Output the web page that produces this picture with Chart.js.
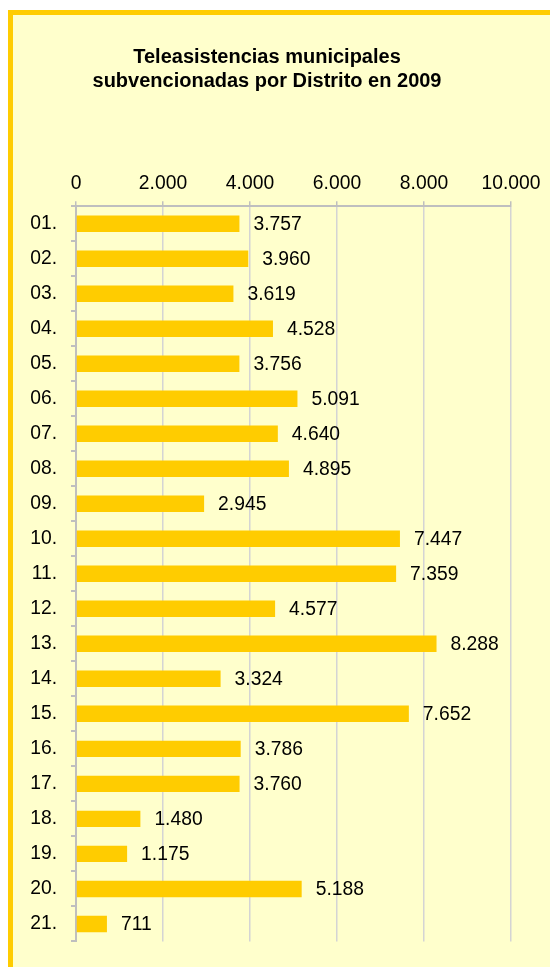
<!DOCTYPE html>
<html>
<head>
<meta charset="utf-8">
<script src="https://cdn.jsdelivr.net/npm/chart.js@4.4.1/dist/chart.umd.min.js"></script>
<style>
  html, body { margin: 0; padding: 0; width: 550px; height: 967px; overflow: hidden; background: #ffffff; }
  #frame { position: absolute; left: 8px; top: 10px; width: 620px; height: 1020px;
           border-left: 5px solid #FFCC00; border-top: 5px solid #FFCC00; background: #FFFFCC; }
  #c { position: absolute; left: 0; top: 0; }
</style>
</head>
<body>
<div id="frame"></div>
<canvas id="c" width="550" height="967"></canvas>
<script>
const titleLines = ['Teleasistencias municipales', 'subvencionadas por Distrito en 2009'];
const districts = ['01.','02.','03.','04.','05.','06.','07.','08.','09.','10.','11.','12.','13.','14.','15.','16.','17.','18.','19.','20.','21.'];
const teleasistencias = [3757, 3960, 3619, 4528, 3756, 5091, 4640, 4895, 2945, 7447, 7359, 4577, 8288, 3324, 7652, 3786, 3760, 1480, 1175, 5188, 711];
const xTicks = [0, 2000, 4000, 6000, 8000, 10000];

const FONT = 'Arial, "Liberation Sans", sans-serif';
function fmt(v) { return String(v).replace(/\B(?=(\d{3})+(?!\d))/g, '.'); }

const valueLabels = {
  id: 'valueLabels',
  afterDatasetsDraw(chart) {
    const ctx = chart.ctx;
    const meta = chart.getDatasetMeta(0);
    ctx.save();
    ctx.font = '19.3px ' + FONT;
    ctx.fillStyle = '#000000';
    ctx.textAlign = 'left';
    ctx.textBaseline = 'middle';
    meta.data.forEach((bar, i) => {
      ctx.fillText(fmt(teleasistencias[i]), bar.x + 14, bar.y + 1);
    });
    ctx.restore();
  }
};

new Chart(document.getElementById('c'), {
  type: 'bar',
  data: {
    labels: districts,
    datasets: [{
      data: teleasistencias,
      backgroundColor: '#FFCC00',
      borderWidth: 0,
      categoryPercentage: 1,
      barPercentage: 0.47
    }]
  },
  options: {
    indexAxis: 'y',
    responsive: false,
    animation: false,
    layout: { padding: { left: 23, right: 39, top: 35, bottom: 22 } },
    plugins: {
      legend: { display: false },
      tooltip: { enabled: false },
      title: {
        display: true,
        text: titleLines,
        color: '#000000',
        font: { family: FONT, size: 20, weight: 'bold', lineHeight: 1.2 },
        padding: { top: 10, bottom: 10 }
      }
    },
    scales: {
      x: {
        position: 'top',
        min: 0,
        max: 10000,
        afterBuildTicks: (s) => { s.ticks = xTicks.map(v => ({ value: v })); },
        afterFit: (s) => { s.height = 103.2; },
        ticks: {
          color: '#000000',
          font: { family: FONT, size: 19.3 },
          padding: 6,
          maxRotation: 0,
          callback: (v) => fmt(v)
        },
        grid: { color: '#D4D4D4', lineWidth: 1.5, tickColor: '#BFBFBF', tickLength: 5 },
        border: { color: '#BFBFBF', width: 2 }
      },
      y: {
        afterFit: (s) => { s.width = 53; },
        ticks: {
          color: '#000000',
          font: { family: FONT, size: 19.3 },
          padding: 14
        },
        grid: { drawOnChartArea: false, offset: true, tickColor: '#BFBFBF', tickLength: 5, lineWidth: 2 },
        border: { color: '#BFBFBF', width: 2 }
      }
    }
  },
  plugins: [valueLabels]
});
</script>
</body>
</html>
